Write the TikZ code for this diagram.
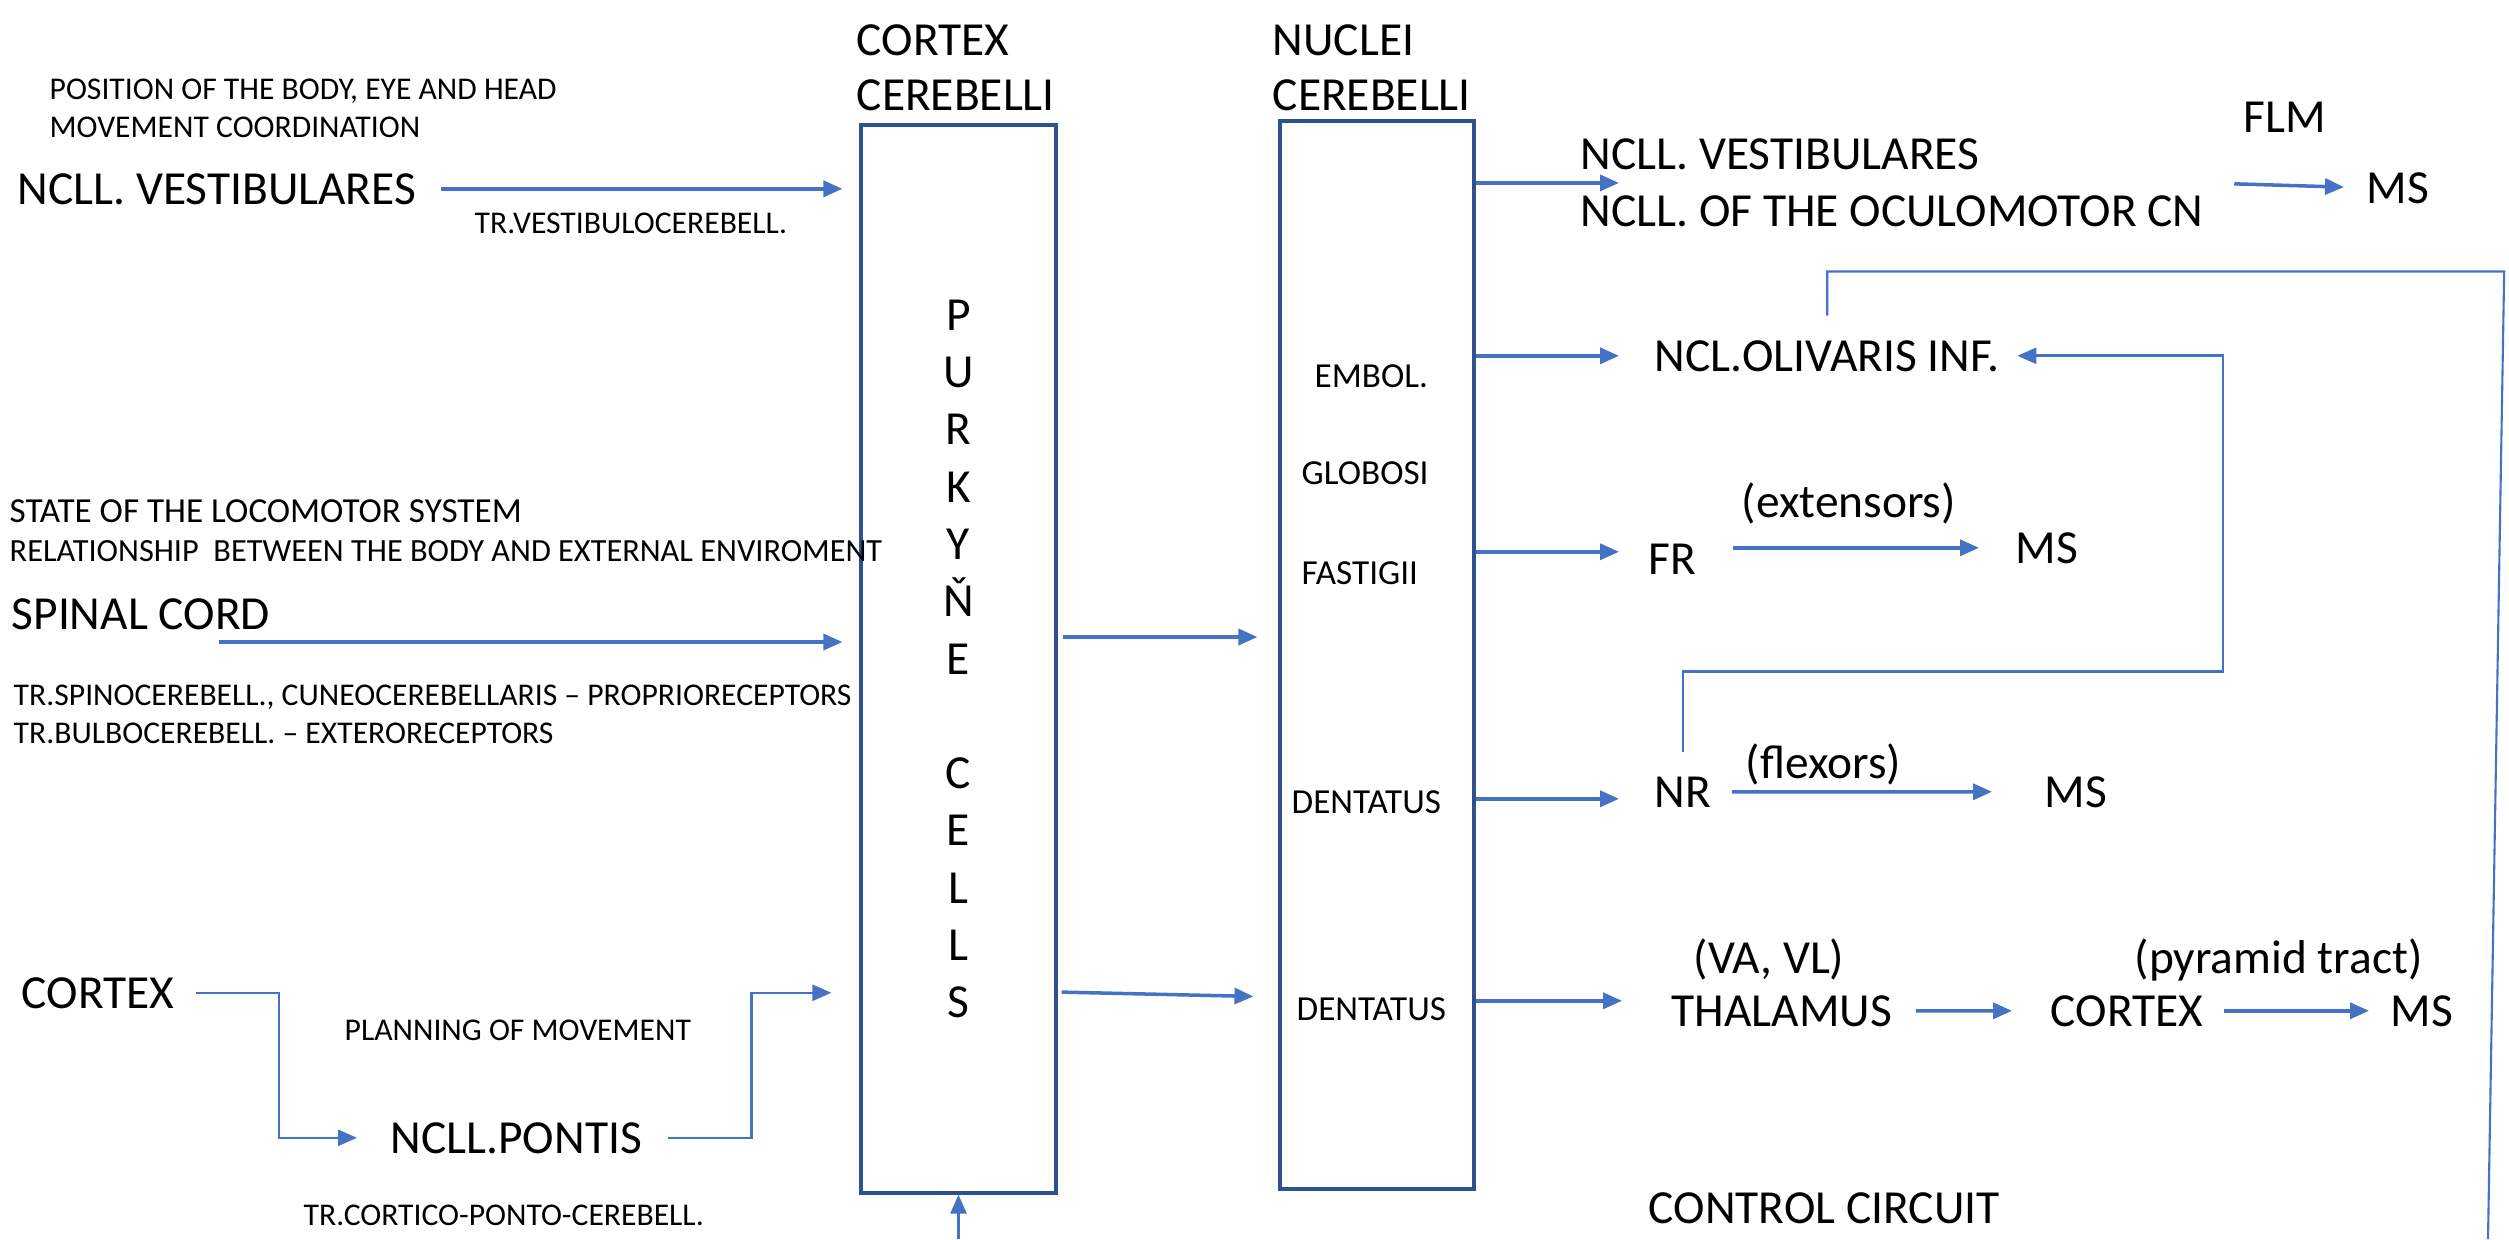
\documentclass[tikz,border=0pt]{standalone}
\usepackage{fontspec}
\setmainfont{Carlito}
\usetikzlibrary{arrows.meta}
\definecolor{ArrowClr}{rgb}{0.267,0.447,0.769}
\definecolor{BoxClr}{rgb}{0.184,0.322,0.561}

\begin{document}
\begin{tikzpicture}[x=0.1mm,y=-0.1mm,
  bigtxt/.style={inner sep=0,anchor=base west,font=\fontsize{13.5}{16.3}\selectfont},
  headtxt/.style={inner sep=0,anchor=north west,align=left,font=\fontsize{13.5}{15.6}\selectfont},
  midtxt/.style={inner sep=0,anchor=base west,font=\fontsize{10}{12}\selectfont},
  smalltxt/.style={inner sep=0,anchor=base west,font=\fontsize{9}{11}\selectfont},
  cbox/.style={draw=BoxClr,line width=0.9pt,inner sep=0,align=center,font=\fontsize{13.5}{16.3}\selectfont},
  arr/.style={draw=ArrowClr,line width=1pt,-{Triangle[length=1.9mm,width=1.6mm]}},
  thinarr/.style={draw=ArrowClr,line width=0.7pt,-{Triangle[length=1.9mm,width=1.6mm]}},
  thinline/.style={draw=ArrowClr,line width=0.6pt}]

\useasboundingbox (0,0) rectangle (2509,1239);

\node[cbox,minimum width=19.5mm,minimum height=106.8mm] (cc) at (958.5,659) {P\\U\\R\\K\\Y\\Ň\\E\\[16.3pt]C\\E\\L\\L\\S};
\node[cbox,minimum width=19.4mm,minimum height=106.8mm] (nc) at (1377,655) {};
\node[headtxt] (cchead) at (856,24) {CORTEX\\CEREBELLI};
\node[headtxt] (nchead) at (1272,24) {NUCLEI\\CEREBELLI};

\node[smalltxt] (posit) at (49,99) {POSITION OF THE BODY, EYE AND HEAD};
\node[smalltxt] (coord) at (49,137) {MOVEMENT COORDINATION};
\node[bigtxt] (vest) at (17,204) {NCLL. VESTIBULARES};
\node[smalltxt] (trvest) at (474,233) {TR.VESTIBULOCEREBELL.};

\node[midtxt] (state) at (9,522) {STATE OF THE LOCOMOTOR SYSTEM};
\node[smalltxt,font=\fontsize{9.2}{11}\selectfont] (relat) at (9,561) {RELATIONSHIP\ \ BETWEEN THE BODY AND EXTERNAL ENVIROMENT};
\node[bigtxt] (spinal) at (11,629) {SPINAL CORD};
\node[smalltxt] (trspin) at (13,705) {TR.SPINOCEREBELL., CUNEOCEREBELLARIS – PROPRIORECEPTORS};
\node[smalltxt] (trbulb) at (13,743) {TR.BULBOCEREBELL. – EXTERORECEPTORS};

\node[bigtxt] (ctx) at (21,1008) {CORTEX};
\node[smalltxt] (plan) at (344,1040) {PLANNING OF MOVEMENT};
\node[bigtxt] (pontis) at (390,1153) {NCLL.PONTIS};
\node[smalltxt] (trcort) at (303,1225) {TR.CORTICO-PONTO-CEREBELL.};

\node[midtxt] (embol) at (1314,387) {EMBOL.};
\node[midtxt] (glob) at (1301,484) {GLOBOSI};
\node[midtxt] (fast) at (1301,584) {FASTIGII};
\node[midtxt] (dent) at (1291,813) {DENTATUS};
\node[midtxt] (dentb) at (1296,1020) {DENTATUS};

\node[bigtxt,anchor=north west,align=left] (oc) at (1580,138) {NCLL. VESTIBULARES\\NCLL. OF THE OCULOMOTOR CN};
\node[bigtxt] (flm) at (2243,132) {FLM};
\node[bigtxt] (msa) at (2366,203) {MS};
\node[bigtxt] (oliv) at (1654,371) {NCL.OLIVARIS INF.};
\node[bigtxt] (ext) at (1741,517) {(extensors)};
\node[bigtxt] (fr) at (1648,574) {FR};
\node[bigtxt] (msb) at (2015,563) {MS};
\node[bigtxt] (flex) at (1745,778) {(flexors)};
\node[bigtxt] (nr) at (1654,807) {NR};
\node[bigtxt] (msc) at (2044,807) {MS};
\node[bigtxt] (vavl) at (1693,973) {(VA, VL)};
\node[bigtxt] (pyr) at (2134,973) {(pyramid tract)};
\node[bigtxt] (thal) at (1671,1026) {THALAMUS};
\node[bigtxt] (cx) at (2050,1026) {CORTEX};
\node[bigtxt] (msd) at (2390,1026) {MS};
\node[bigtxt] (ctrl) at (1648,1223) {CONTROL CIRCUIT};

\coordinate (spinout) at (219,642);
\coordinate (loopend) at (2488,1239);

\draw[arr,shorten <=2.4mm,shorten >=1.7mm] (vest.east) -- (vest.east -| cc.west);
\draw[arr,shorten >=1.7mm] (spinout) -- (spinout -| cc.west);
\draw[thinarr,shorten <=2.1mm,shorten >=3.3mm] (ctx.east) -- ++(10.4mm,0) |- (pontis.west);
\draw[thinarr,shorten <=2.5mm,shorten >=2.8mm] (pontis.east) -- ++(10.9mm,0) |- (ctx.east -| cc.west);
\draw[thinarr] (cc.south |- loopend) -- (cc.south);

\draw[arr,shorten <=.5mm,shorten >=2.1mm] ([yshift=2.2mm]cc.east) -- ([yshift=2.2mm]cc.east -| nc.west);
\draw[arr,shorten <=.4mm,shorten >=2.5mm] ([yshift=-33.3mm]cc.east) -- ([yshift=-34.2mm]nc.west);

\draw[arr] (nc.east |- oc.west) -- ([xshift=3.9mm]oc.west);
\draw[arr,shorten >=3.5mm] (nc.east |- oliv.west) -- (oliv.west);
\draw[arr,shorten >=2.9mm] ([yshift=.7mm]nc.east |- fr.west) -- ([yshift=.7mm]fr.west);
\draw[arr,shorten >=3.5mm] ([yshift=-.7mm]nc.east |- nr.west) -- ([yshift=-.7mm]nr.west);
\draw[arr,shorten >=4.9mm] ([yshift=1mm]nc.east |- thal.west) -- ([yshift=1mm]thal.west);

\draw[arr,shorten <=3mm,shorten >=2.2mm] (oc.east) -- (msa.west);
\draw[arr,shorten <=3.6mm,shorten >=3.6mm] (fr.east |- msb.west) -- (msb.west);
\draw[arr,shorten <=2mm,shorten >=5.2mm] (nr.east) -- (msc.west);
\draw[arr,shorten <=2.3mm,shorten >=3.8mm] (thal.east) -- (cx.west);
\draw[arr,shorten <=2mm,shorten >=2.1mm] (cx.east) -- (msd.west);

\draw[thinarr,line width=0.8pt,shorten <=2.4mm,shorten >=1.7mm] (nr.north) -- ++(0,10.4mm) -- ++(54mm,0) |- (oliv.east);
\draw[thinline,shorten <=2.4mm] (oliv.north) -- ++(0,6.8mm) -- ++(67.7mm,0) -- (loopend);

\end{tikzpicture}
\end{document}
